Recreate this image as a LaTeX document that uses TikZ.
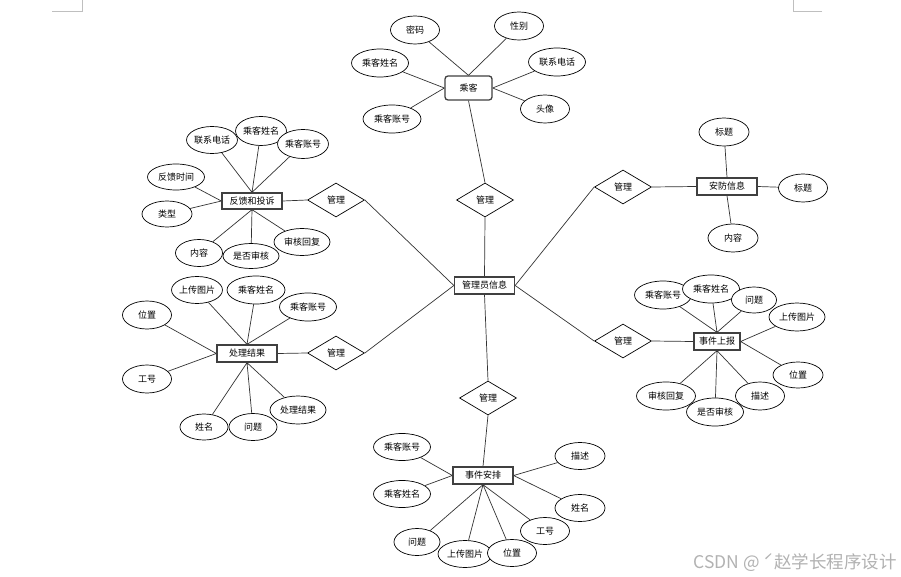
\documentclass[tikz,border=0pt]{standalone}
\usepackage{fontspec}
\setmainfont{Noto Sans CJK SC}
\usepackage{tikz}
\usetikzlibrary{shapes.geometric}
\usetikzlibrary{backgrounds}

\begin{document}
\begin{tikzpicture}[x=1pt,y=-1pt,
		every node/.style={font=\fontsize{9}{9}\selectfont},
		entity/.style={draw=black!75,line width=1.3pt,fill=white,inner sep=0pt,minimum width=60pt,minimum height=17pt},
		attr/.style={ellipse,draw,line width=0.7pt,fill=white,inner sep=0pt,minimum width=49pt,minimum height=27pt},
		wattr/.style={attr,minimum width=57pt,minimum height=28pt},
		rel/.style={diamond,draw,line width=0.7pt,fill=white,inner sep=0pt,minimum width=57pt,minimum height=34pt},
		link/.style={draw=black!80,line width=0.7pt},
		cornermark/.style={draw=black!25,line width=0.6pt}]
		\useasboundingbox (0,0) rectangle (901,577);
		\draw[cornermark] (52,11) -- (82,11) -- (82,0);
		\draw[cornermark] (822,11) -- (793,11) -- (793,0);

		\node[entity] (M) at (484.5,285.5) {管理员信息};
		\node[entity,rounded corners=3pt,minimum width=47pt,minimum height=24pt] (P) at (468.5,88) {乘客};
		\node[entity,minimum height=16pt] (F) at (252,201) {反馈和投诉};
		\node[entity] (C) at (247,353.5) {处理结果};
		\node[entity] (A) at (483,475.5) {事件安排};
		\node[entity] (S) at (727,186.5) {安防信息};
		\node[entity,minimum width=46pt] (R) at (717,341.5) {事件上报};

		\node[rel] (D1) at (485,200) {管理};
		\node[rel] (D2) at (336,200) {管理};
		\node[rel] (D3) at (336,353) {管理};
		\node[rel] (D4) at (488,398) {管理};
		\node[rel] (D5) at (623,187) {管理};
		\node[rel] (D6) at (623,341) {管理};

		\node[attr,minimum height=28pt] (p1) at (415,30) {密码};
		\node[attr,minimum height=28pt] (p2) at (519,26) {性别};
		\node[wattr] (p3) at (380,63) {乘客姓名};
		\node[wattr] (p4) at (557,62) {联系电话};
		\node[attr,minimum height=28pt] (p5) at (545,109) {头像};
		\node[wattr,minimum width=58pt] (p6) at (392,119) {乘客账号};

		\node[attr,minimum width=48pt] (f1) at (212,140) {联系电话};
		\node[attr,minimum width=50pt,minimum height=29pt] (f2) at (261,131) {乘客姓名};
		\node[attr,minimum width=48pt,minimum height=29pt] (f3) at (303,144) {乘客账号};
		\node[wattr,minimum height=26pt] (f4) at (176,177) {反馈时间};
		\node[attr,minimum width=50pt,minimum height=26pt] (f5) at (167,214) {类型};
		\node[attr,minimum width=47pt] (f6) at (199,253) {内容};
		\node[wattr,minimum width=56pt,minimum height=25pt] (f7) at (251,256) {是否审核};
		\node[wattr,minimum width=56pt,minimum height=27pt] (f8) at (302,242) {审核回复};

		\node[attr,minimum width=48pt] (c1) at (197,290) {上传图片};
		\node[wattr,minimum width=58pt] (c2) at (256,290) {乘客姓名};
		\node[wattr] (c3) at (308,307) {乘客账号};
		\node[attr,minimum height=28pt] (c4) at (147,315) {位置};
		\node[attr,minimum height=28pt] (c5) at (147,379) {工号};
		\node[attr,minimum width=48pt,minimum height=26pt] (c6) at (204,427) {姓名};
		\node[attr,minimum width=48pt] (c7) at (253,427) {问题};
		\node[wattr,minimum width=56pt] (c8) at (298,410) {处理结果};

		\node[wattr,minimum height=27pt] (a1) at (402,447) {乘客账号};
		\node[wattr,minimum height=27pt] (a2) at (402,494) {乘客姓名};
		\node[attr,minimum width=50pt] (a3) at (580,456) {描述};
		\node[attr,minimum width=50pt] (a4) at (580,508) {姓名};
		\node[attr] (a5) at (545,531) {工号};
		\node[attr,minimum width=46pt] (a6) at (417,542) {问题};
		\node[attr,minimum width=54pt] (a7) at (465,554) {上传图片};
		\node[attr] (a8) at (512,553) {位置};

		\node[attr,minimum width=50pt,minimum height=28pt] (s1) at (724,132) {标题};
		\node[attr,minimum height=28pt] (s2) at (803,188) {标题};
		\node[attr,minimum width=50pt,minimum height=28pt] (s3) at (733,238) {内容};

		\node[wattr] (r1) at (663,295) {乘客账号};
		\node[wattr] (r2) at (711,289) {乘客姓名};
		\node[attr,minimum width=45pt,minimum height=26pt] (r3) at (754,300) {问题};
		\node[wattr,minimum width=56pt] (r4) at (797,317) {上传图片};
		\node[attr,minimum width=50pt,minimum height=26pt] (r5) at (798,375) {位置};
		\node[wattr,minimum width=59pt] (r6) at (666,396) {审核回复};
		\node[wattr] (r7) at (715,412) {是否审核};
		\node[attr,minimum height=28pt] (r8) at (760,396) {描述};

		\node[text=black!30,font=\fontsize{17.5}{17.5}\selectfont,anchor=east,inner sep=0pt] (wm) at (897,563) {CSDN @ ˊ赵学长程序设计};

		\begin{scope}[on background layer]
		\fill[white] (0,0) rectangle (901,577);
		\draw[link] (P.south) -- (D1.north) (D1.south) -- (M.north);
		\draw[link] (F.east) -- (D2.west) (D2.east) -- (M.west);
		\draw[link] (C.east) -- (D3.west) (D3.east) -- (M.west);
		\draw[link] (M.south) -- (D4.north) (D4.south) -- (A.north);
		\draw[link] (M.east) -- (D5.west) (D5.east) -- (S.west);
		\draw[link] (M.east) -- (D6.west) (D6.east) -- (R.west);

		\draw[link] (p1) -- (P.north) (p2) -- (P.north) (p3) -- (P.west) (p6) -- (P.west) (p4) -- (P.east) (p5) -- (P.east);
		\draw[link] (f1) -- (F.north) (f2) -- (F.north) (f3) -- (F.north) (f4) -- (F.west) (f5) -- (F.west);
		\draw[link] (f6) -- (F.south) (f7) -- (F.south) (f8) -- (F.south);
		\draw[link] (c1) -- (C.north) (c2) -- (C.north) (c3) -- (C.north) (c4) -- (C.west) (c5) -- (C.west);
		\draw[link] (c6) -- (C.south) (c7) -- (C.south) (c8) -- (C.south);
		\draw[link] (a1) -- (A.west) (a2) -- (A.west) (a3) -- (A.east) (a4) -- (A.east);
		\draw[link] (a5) -- (A.south) (a6) -- (A.south) (a7) -- (A.south) (a8) -- (A.south);
		\draw[link] (s1) -- (S.north) (s2) -- (S.east) (s3) -- (S.south);
		\draw[link] (r1) -- (R.north) (r2) -- (R.north) (r3) -- (R.north) (r4) -- (R.east) (r5) -- (R.east);
		\draw[link] (r6) -- (R.south) (r7) -- (R.south) (r8) -- (R.south);
		\end{scope}
	\end{tikzpicture}
\end{document}
